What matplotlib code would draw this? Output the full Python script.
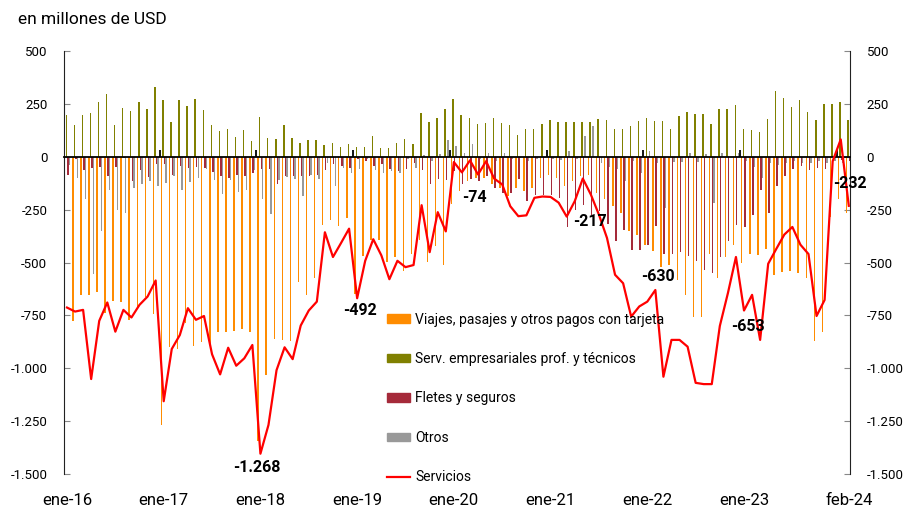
import matplotlib
matplotlib.use("Agg")
import matplotlib.pyplot as plt
import numpy as np
from matplotlib.patches import Patch
from matplotlib.lines import Line2D
from matplotlib.ticker import FixedLocator, FuncFormatter

plt.rcParams["font.family"] = ["Roboto", "DejaVu Sans"]

# monthly data, ene-16 .. feb-24 (98 months), millones de USD
viajes = [-783, -776, -653, -656, -640, -740, -680, -688, -771, -716, -661, -745,
          -1266, -898, -909, -787, -895, -877, -885, -830, -830, -824, -816, -830,
          -1344, -1032, -863, -866, -869, -594, -656, -574, -321, -297, -329, -289,
          -650, -468, -392, -395, -498, -473, -542, -458, -392, -498, -424, -514,
          -223, -163, -115, -100, -100, -130, -147, -187, -147, -160, -147, -100,
          -85, -100, -140, -115, -90, -85, -171, -198, -231, -266, -353, -368,
          -416, -444, -519, -511, -582, -656, -756, -756, -460, -574, -473, -416,
          -503, -458, -466, -436, -561, -547, -539, -550, -574, -871, -830, -286,
          -198, -266]
serv_emp = [196, 152, 196, 207, 261, 299, 149, 231, 218, 261, 228, 332,
            267, 163, 267, 242, 272, 221, 149, 120, 130, 93, 126, 76,
            188, 90, 82, 152, 90, 66, 81, 77, 54, 65, 46, 58,
            46, 46, 96, 43, 43, 66, 82, 58, 209, 166, 182, 228,
            274, 196, 185, 157, 161, 185, 158, 150, 103, 130, 130, 157,
            175, 163, 163, 166, 166, 166, 177, 172, 130, 130, 144, 171,
            183, 168, 171, 130, 191, 210, 204, 204, 157, 228, 228, 247,
            130, 126, 119, 180, 310, 278, 234, 270, 210, 172, 250, 250,
            261, 175]
fletes = [-87, -13, -63, -54, -49, -93, -49, -5, -115, -63, -96, -32,
          -33, -87, -44, -52, -47, -52, -73, -92, -100, -87, -89, -79,
          -57, -60, -131, -89, -92, -89, -89, -84, -65, -36, -44, -52,
          -13, -21, -44, -36, -60, -68, -60, -28, -65, -131, -103, -110,
          -68, -131, -107, -115, -90, -147, -171, -170, -107, -210, -179, -179,
          -179, -195, -334, -253, -226, -274, -258, -316, -400, -345, -443, -440,
          -416, -329, -458, -458, -451, -471, -492, -537, -552, -474, -397, -321,
          -332, -274, -155, -266, -139, -92, -60, -44, -63, -55, -60, -10,
          -15, -20]
otros = [-40, -100, -199, -553, -353, -158, -251, -266, -147, -131, -115, -139,
         -125, -92, -158, -119, -100, -58, -111, -175, -108, -166, -158, -65,
         -199, -273, -108, -96, -103, -187, -84, -103, -28, -139, -55, -76,
         -60, -13, -65, -76, -68, -76, -13, -52, 10, -20, 15, 79,
         50, 20, 58, -10, 19, -20, 19, -10, -5, -20, -10, -5,
         -10, -15, 28, -10, 98, 145, -30, -49, -60, -115, -20, -76,
         27, -30, -242, -27, -24, 19, -25, 14, -220, 20, -3, 16,
         -22, -50, -100, -30, -40, -30, -20, -30, -30, -20, -30, -20,
         -30, -106]
servicios = [-713, -732, -724, -1051, -776, -689, -827, -724, -760, -700, -661, -585,
             -1156, -909, -843, -716, -771, -753, -934, -1029, -903, -988, -953, -890,
             -1404, -1268, -1009, -901, -957, -798, -727, -685, -357, -474, -408, -340,
             -669, -492, -390, -466, -579, -492, -522, -512, -229, -451, -262, -353,
             -25, -74, -17, -84, -21, -103, -131, -234, -281, -277, -194, -188,
             -190, -217, -283, -210, -103, -179, -274, -384, -558, -598, -756, -708,
             -685, -630, -1040, -866, -866, -898, -1069, -1075, -1075, -800, -645, -474,
             -727, -653, -866, -506, -436, -368, -332, -416, -460, -753, -677, -21,
             82, -232]

x_labels = ["ene-16", "ene-17", "ene-18", "ene-19", "ene-20", "ene-21", "ene-22", "ene-23", "feb-24"]
x_label_pos = [0, 12, 24, 36, 48, 60, 72, 84, 97]

# february values are labelled, text offset (months, units) from the point
feb_idx = [25, 37, 49, 61, 73, 85, 97]
feb_offset = [(-1.4, -200), (-0.6, -235), (1.6, -118), (3.9, -89), (0.3, 64), (-0.5, -149), (0.2, 104)]

names = ["Viajes, pasajes y otros pagos con tarjeta", "Serv. empresariales prof. y técnicos",
         "Fletes y seguros", "Otros", "Servicios"]
colors = ["#ff8c00", "#808000", "#a52a3a", "#999999", "#ff0000"]


def fmt(v, pos=None):
    return f"{v:,.0f}".replace(",", ".")


fig = plt.figure(figsize=(9.06, 5.07), dpi=100)
ax = fig.add_axes([64 / 906, 1 - 474 / 507, 786 / 906, 423 / 507])

x = np.arange(len(servicios))
w = 0.18
series = [viajes, serv_emp, fletes, otros]
offsets = [-0.28, -0.09, 0.1, 0.29]
for s, off, c in zip(series, offsets, colors):
    ax.bar(x + off, s, width=w, color=c, linewidth=0, zorder=2)

ax.plot(x, servicios, color=colors[4], lw=1.6, zorder=4)

for i, (dx, dy) in zip(feb_idx, feb_offset):
    ax.text(i + dx, servicios[i] + dy, fmt(servicios[i]), ha="center", va="center",
            fontsize=11.5, fontweight="bold", zorder=5)

ax.set_xlim(-0.37, 97.15)
ax.set_ylim(-1500, 500)
ax.yaxis.set_major_locator(FixedLocator(np.arange(-1500, 501, 250)))
ax.yaxis.set_major_formatter(FuncFormatter(fmt))
ax.tick_params(axis="y", which="major", left=True, right=True, labelleft=True, labelright=True,
               direction="in", length=4, color="#888888", labelsize=9.5, pad=12)

# zero line with year boundary ticks
ax.spines["top"].set_position(("data", 0))
ax.spines["top"].set_linewidth(1.3)
ax.spines["top"].set_zorder(3)
ax.spines["bottom"].set_visible(False)
ax.spines["left"].set_color("#222222")
ax.spines["right"].set_color("#222222")
ax.xaxis.set_major_locator(FixedLocator(x_label_pos))
ax.set_xticklabels(x_labels)
ax.xaxis.set_minor_locator(FixedLocator(np.arange(11.5, 96, 12)))
ax.tick_params(axis="x", which="major", bottom=True, top=False, length=0, labelsize=12, pad=14)
ax.tick_params(axis="x", which="minor", bottom=False, top=True, direction="out", length=5,
               width=1.3, color="black")

handles = [Patch(color=c) for c in colors[:4]] + [Line2D([], [], color=colors[4], lw=1.6)]
fig.legend(handles, names, loc="upper left", bbox_to_anchor=(381 / 906, 1 - 307 / 507),
           frameon=False, fontsize=10, handlelength=1.7, handleheight=0.6,
           handletextpad=0.35, labelspacing=1.83, borderaxespad=0)

fig.text(18 / 906, 1 - 20 / 507, "en millones de USD", fontsize=12.5, va="center", ha="left")

fig.savefig("out.png", dpi=100)
